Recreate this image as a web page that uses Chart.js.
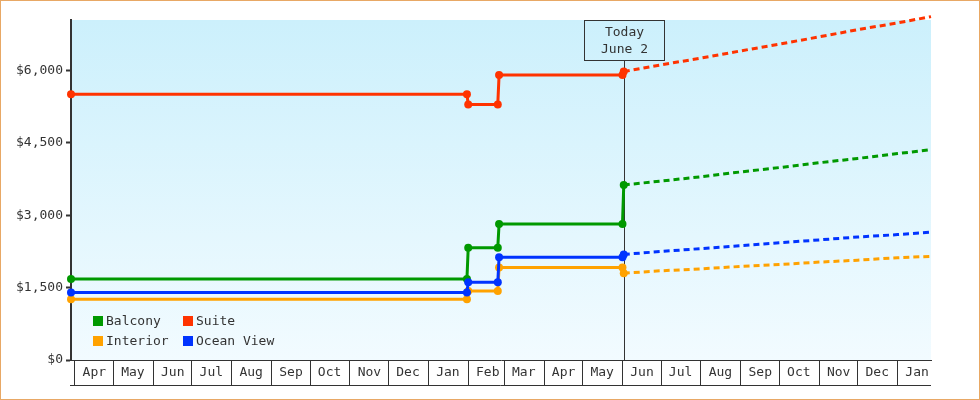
<!DOCTYPE html>
<html>
<head>
<meta charset="utf-8">
<script src="https://cdn.jsdelivr.net/npm/chart.js@4.4.1/dist/chart.umd.min.js"></script>
<style>
  html, body { margin: 0; padding: 0; background: #fff; }
  canvas { display: block; }
</style>
</head>
<body>
<canvas id="fares" width="980" height="400"></canvas>
<script>
// fare history per cabin, then the forecast after today
const histDates = ["2022-03-29", "2023-01-31", "2023-02-01", "2023-02-24", "2023-02-25", "2023-06-01", "2023-06-02"];
const balconyHist  = [1680, 1680, 2330, 2330, 2820, 2820, 3630];
const suiteHist    = [5510, 5510, 5300, 5300, 5910, 5910, 5980];
const interiorHist = [1260, 1260, 1430, 1430, 1920, 1920, 1800];
const oceanHist    = [1400, 1400, 1610, 1610, 2130, 2130, 2190];

const fcDates = ["2023-06-02", "2023-07-01", "2023-08-01", "2023-09-01", "2023-10-01", "2023-11-01", "2023-12-01", "2024-01-01", "2024-01-27"];
const balconyFc  = [3630, 3710, 3800, 3900, 3990, 4090, 4180, 4280, 4360];
const suiteFc    = [5980, 6120, 6260, 6410, 6550, 6700, 6850, 6990, 7120];
const interiorFc = [1800, 1850, 1890, 1940, 1980, 2030, 2070, 2120, 2150];
const oceanFc    = [2190, 2250, 2310, 2370, 2430, 2490, 2550, 2600, 2650];

const monthStarts = ["2022-04-01", "2022-05-01", "2022-06-01", "2022-07-01", "2022-08-01", "2022-09-01",
  "2022-10-01", "2022-11-01", "2022-12-01", "2023-01-01", "2023-02-01", "2023-03-01", "2023-04-01",
  "2023-05-01", "2023-06-01", "2023-07-01", "2023-08-01", "2023-09-01", "2023-10-01", "2023-11-01",
  "2023-12-01", "2024-01-01"];
const monthLabels = ["Apr", "May", "Jun", "Jul", "Aug", "Sep", "Oct", "Nov", "Dec", "Jan", "Feb",
  "Mar", "Apr", "May", "Jun", "Jul", "Aug", "Sep", "Oct", "Nov", "Dec", "Jan"];
const yTicks = [0, 1500, 3000, 4500, 6000];
const xStart = "2022-03-29", xEnd = "2024-01-27";
const today = "2023-06-02";
const todayText = ["Today", "June 2"];

const day = d => Date.parse(d) / 86400000;
const pts = (dates, vals) => dates.map((d, k) => ({ x: day(d), y: vals[k] }));

const cabins = [
  { label: "Balcony",    color: "#009900", hist: balconyHist,  fc: balconyFc,  order: 2 },
  { label: "Suite",      color: "#ff3300", hist: suiteHist,    fc: suiteFc,    order: 0 },
  { label: "Interior",   color: "#ffa200", hist: interiorHist, fc: interiorFc, order: 3 },
  { label: "Ocean View", color: "#0033ff", hist: oceanHist,    fc: oceanFc,    order: 1 }
];

const datasets = [];
cabins.forEach(c => {
  datasets.push({
    label: c.label, legend: true, order: c.order,
    data: pts(histDates, c.hist),
    borderColor: c.color, backgroundColor: c.color, borderWidth: 3,
    pointRadius: 4, pointBorderWidth: 0, pointBackgroundColor: c.color,
    clip: false
  });
  datasets.push({
    label: c.label + " forecast", order: c.order,
    data: pts(fcDates, c.fc),
    borderColor: c.color, borderWidth: 3, borderDash: [6, 4],
    pointRadius: 0, clip: false
  });
});

const ink = "#333";

const extras = {
  id: "extras",
  beforeDraw(chart) {
    const { ctx, chartArea: a } = chart;
    ctx.save();
    ctx.fillStyle = "#fff";
    ctx.fillRect(0, 0, chart.width, chart.height);
    const g = ctx.createLinearGradient(0, a.top, 0, a.bottom);
    g.addColorStop(0, "#ccf0fc");
    g.addColorStop(1, "#f2fbff");
    ctx.fillStyle = g;
    ctx.fillRect(a.left, a.top, a.right - a.left, a.bottom - a.top);
    ctx.strokeStyle = "#e8a865";
    ctx.lineWidth = 1;
    ctx.strokeRect(0.5, 0.5, chart.width - 1, chart.height - 1);
    ctx.restore();
  },
  beforeDatasetsDraw(chart) {
    const { ctx, chartArea: a } = chart;
    const x = Math.round(chart.scales.x.getPixelForValue(day(today))) + 0.5;
    ctx.save();
    ctx.strokeStyle = ink;
    ctx.lineWidth = 1;
    ctx.beginPath();
    ctx.moveTo(x, a.top + 40);
    ctx.lineTo(x, a.bottom);
    ctx.stroke();
    ctx.restore();
  },
  afterDraw(chart) {
    const { ctx, chartArea: a } = chart;
    const xs = chart.scales.x;
    ctx.save();
    // bottom edge of the month boxes
    ctx.strokeStyle = ink;
    ctx.lineWidth = 1;
    ctx.beginPath();
    ctx.moveTo(a.left - 1, xs.top + 25.5);
    ctx.lineTo(a.right, xs.top + 25.5);
    ctx.stroke();

    // today box
    const x = Math.round(xs.getPixelForValue(day(today))) + 0.5;
    ctx.strokeRect(x - 40, a.top + 0.5, 80, 40);
    ctx.fillStyle = ink;
    ctx.font = "13px 'DejaVu Sans Mono', monospace";
    ctx.textAlign = "center";
    ctx.textBaseline = "middle";
    ctx.fillText(todayText[0], x, a.top + 13);
    ctx.fillText(todayText[1], x, a.top + 30);

    // legend, two columns
    ctx.textAlign = "left";
    chart.data.datasets.filter(d => d.legend).forEach((d, i) => {
      const sx = a.left + 22 + (i % 2) * 90;
      const sy = a.bottom - 44 + Math.floor(i / 2) * 20;
      ctx.fillStyle = d.borderColor;
      ctx.fillRect(sx, sy, 10, 10);
      ctx.fillStyle = ink;
      ctx.fillText(d.label, sx + 13, sy + 5.5);
    });
    ctx.restore();
  }
};

Chart.defaults.font.family = "'DejaVu Sans Mono', monospace";
Chart.defaults.font.size = 13;
Chart.defaults.color = ink;

new Chart(document.getElementById("fares"), {
  type: "line",
  data: { datasets },
  options: {
    responsive: false,
    animation: false,
    layout: { padding: { top: 20, right: 49, left: 0, bottom: 0 } },
    elements: { line: { tension: 0 } },
    plugins: { legend: { display: false }, tooltip: { enabled: false } },
    scales: {
      x: {
        type: "linear",
        min: day(xStart),
        max: day(xEnd),
        afterBuildTicks: s => { s.ticks = monthStarts.map(d => ({ value: day(d) })); },
        afterFit: s => { s.height = 40; },
        border: { color: ink, width: 1 },
        grid: { drawOnChartArea: false, tickLength: 25, tickWidth: 1, tickColor: ink, color: ink },
        ticks: {
          autoSkip: false, maxRotation: 0, minRotation: 0,
          labelOffset: 19.5, padding: -20,
          callback: (v, i) => monthLabels[i]
        }
      },
      y: {
        min: 0,
        max: 7050,
        afterBuildTicks: s => { s.ticks = yTicks.map(v => ({ value: v })); },
        afterFit: s => { s.width = 71; },
        border: { color: ink, width: 2 },
        grid: { drawOnChartArea: false, tickLength: 5, tickWidth: 2, tickColor: ink },
        ticks: { padding: 3, callback: v => "$" + v.toLocaleString("en-US") }
      }
    }
  },
  plugins: [extras]
});
</script>
</body>
</html>
